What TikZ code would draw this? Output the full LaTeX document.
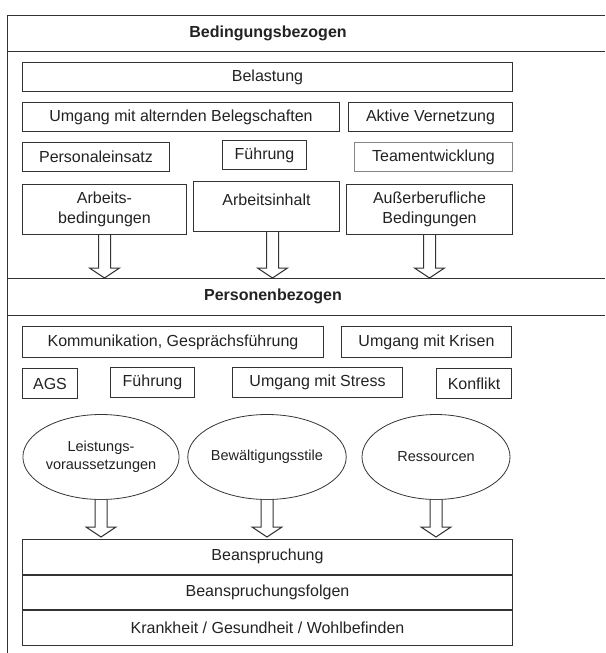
\documentclass[tikz,border=0pt]{standalone}
\usepackage{fontspec}
\setmainfont{Liberation Sans}
\usepackage{tikz}
\usetikzlibrary{positioning,shapes.geometric,calc}
\definecolor{Ink}{HTML}{222222}
\definecolor{Rule}{HTML}{333333}
\newcommand{\boxfont}{\fontsize{16}{19.5}\selectfont}
\newcommand{\ovalfont}{\fontsize{14.5}{18}\selectfont}
% hollow block arrow from #1 down to #2
\newcommand{\hollowarrow}[2]{%
  \draw[hollow] ($(#1)+(-6,0)$) -- ($(#2)+(-6,10)$) -- ($(#2)+(-15,10)$) -- (#2)
    -- ($(#2)+(15,10)$) -- ($(#2)+(6,10)$) -- ($(#1)+(6,0)$);}

\begin{document}
\begin{tikzpicture}[
  x=1pt,y=1pt,
  node distance=10pt,
  frame/.style={draw=Rule,line width=1pt},
  head/.style={font=\boxfont\bfseries,text=Ink},
  box/.style={draw=Rule,line width=1pt,inner sep=0pt,minimum height=29pt,align=center,font=\boxfont,text=Ink},
  tallbox/.style={box,minimum height=50pt},
  band/.style={box,minimum width=490pt,minimum height=34.5pt},
  oval/.style={ellipse,draw=Rule,line width=0.8pt,inner sep=0pt,minimum width=148pt,minimum height=85pt,align=center,font=\ovalfont,text=Ink},
  hollow/.style={draw=Rule,line width=1pt,fill=white,line join=miter}
]
\useasboundingbox (0,0) rectangle (605,-653);

% frame and section bands
\draw[frame] (605,-15) -| (7,-653);
\draw[frame] (7,-51) -- (605,-51);
\draw[frame] (7,-278) -- (605,-278);
\draw[frame] (7,-315) -- (605,-315);
\coordinate (sepA) at (7,-278);

\node[head] (bed) at (268,-33) {Bedingungsbezogen};
\node[head] (per) at (273,-296.5) {Personenbezogen};

% conditions
\node[box,minimum width=490pt,anchor=north west] (bel) at (22,-62) {Belastung};
\node[box,minimum width=317pt,below=10pt of bel.south west,anchor=north west] (alt) {Umgang mit alternden Belegschaften};
\node[box,minimum width=164pt,below=10pt of bel.south east,anchor=north east] (vern) {Aktive Vernetzung};
\node[box,minimum width=147pt,below=10pt of alt.south west,anchor=north west] (pers) {Personaleinsatz};
\node[box,minimum width=84pt,anchor=north west] (fue) at (222,-140) {Führung};
\node[box,draw=Rule!60,minimum width=158pt,below=10pt of vern.south east,anchor=north east] (team) {Teamentwicklung};
\node[tallbox,minimum width=164pt,below=12pt of pers.south west,anchor=north west] (arb) {Arbeits-\\bedingungen\vphantom{g}};
\node[tallbox,minimum width=146pt,text height=11pt,text depth=14pt,anchor=north west] (inh) at (193,-181) {Arbeitsinhalt};
\node[tallbox,minimum width=166pt,below=12pt of team.south east,anchor=north east] (aus) {Außerberufliche\\Bedingungen};

% persons
\node[box,minimum width=301pt,minimum height=31pt,anchor=north west] (komm) at (22,-326) {Kommunikation, Gesprächsführung};
\node[box,minimum width=170pt,minimum height=31pt,anchor=north east] (kris) at (512,-326) {Umgang mit Krisen};
\node[box,minimum width=55pt,minimum height=30pt,below=10pt of komm.south west,anchor=north west] (ags) {AGS};
\node[box,minimum width=84pt,minimum height=30pt,anchor=north west] (fuep) at (110,-367) {Führung};
\node[box,minimum width=170pt,minimum height=30pt,anchor=north west] (stress) at (232,-367) {Umgang mit Stress};
\node[box,minimum width=75pt,minimum height=30pt,below=10pt of kris.south east,anchor=north east] (konf) {Konflikt};

\node[oval] (leist) at (101,-457) {Leistungs-\\voraussetzungen};
\node[oval,minimum width=147pt] (bew) at (267,-457) {Bewältigungsstile};
\node[oval] (res) at (436,-457) {Ressourcen};

% outcome stack
\node[band,anchor=north west] (bea) at (22,-539) {Beanspruchung};
\node[band,below=0pt of bea] (folg) {Beanspruchungsfolgen};
\node[band,below=0pt of folg] (krank) {Krankheit / Gesundheit / Wohlbefinden};

% block arrows
\coordinate (s2) at ($(inh.south)+(6,0)$);
\coordinate (t1) at (arb.south |- sepA);
\coordinate (t2) at (s2 |- sepA);
\coordinate (t3) at (aus.south |- sepA);
\hollowarrow{arb.south}{t1}
\hollowarrow{s2}{t2}
\hollowarrow{aus.south}{t3}

\coordinate (u1) at ($(leist.south |- bea.north)+(0,2)$);
\coordinate (u2) at ($(bew.south |- bea.north)+(0,2)$);
\coordinate (u3) at ($(res.south |- bea.north)+(0,2)$);
\hollowarrow{leist.south}{u1}
\hollowarrow{bew.south}{u2}
\hollowarrow{res.south}{u3}
\end{tikzpicture}
\end{document}
